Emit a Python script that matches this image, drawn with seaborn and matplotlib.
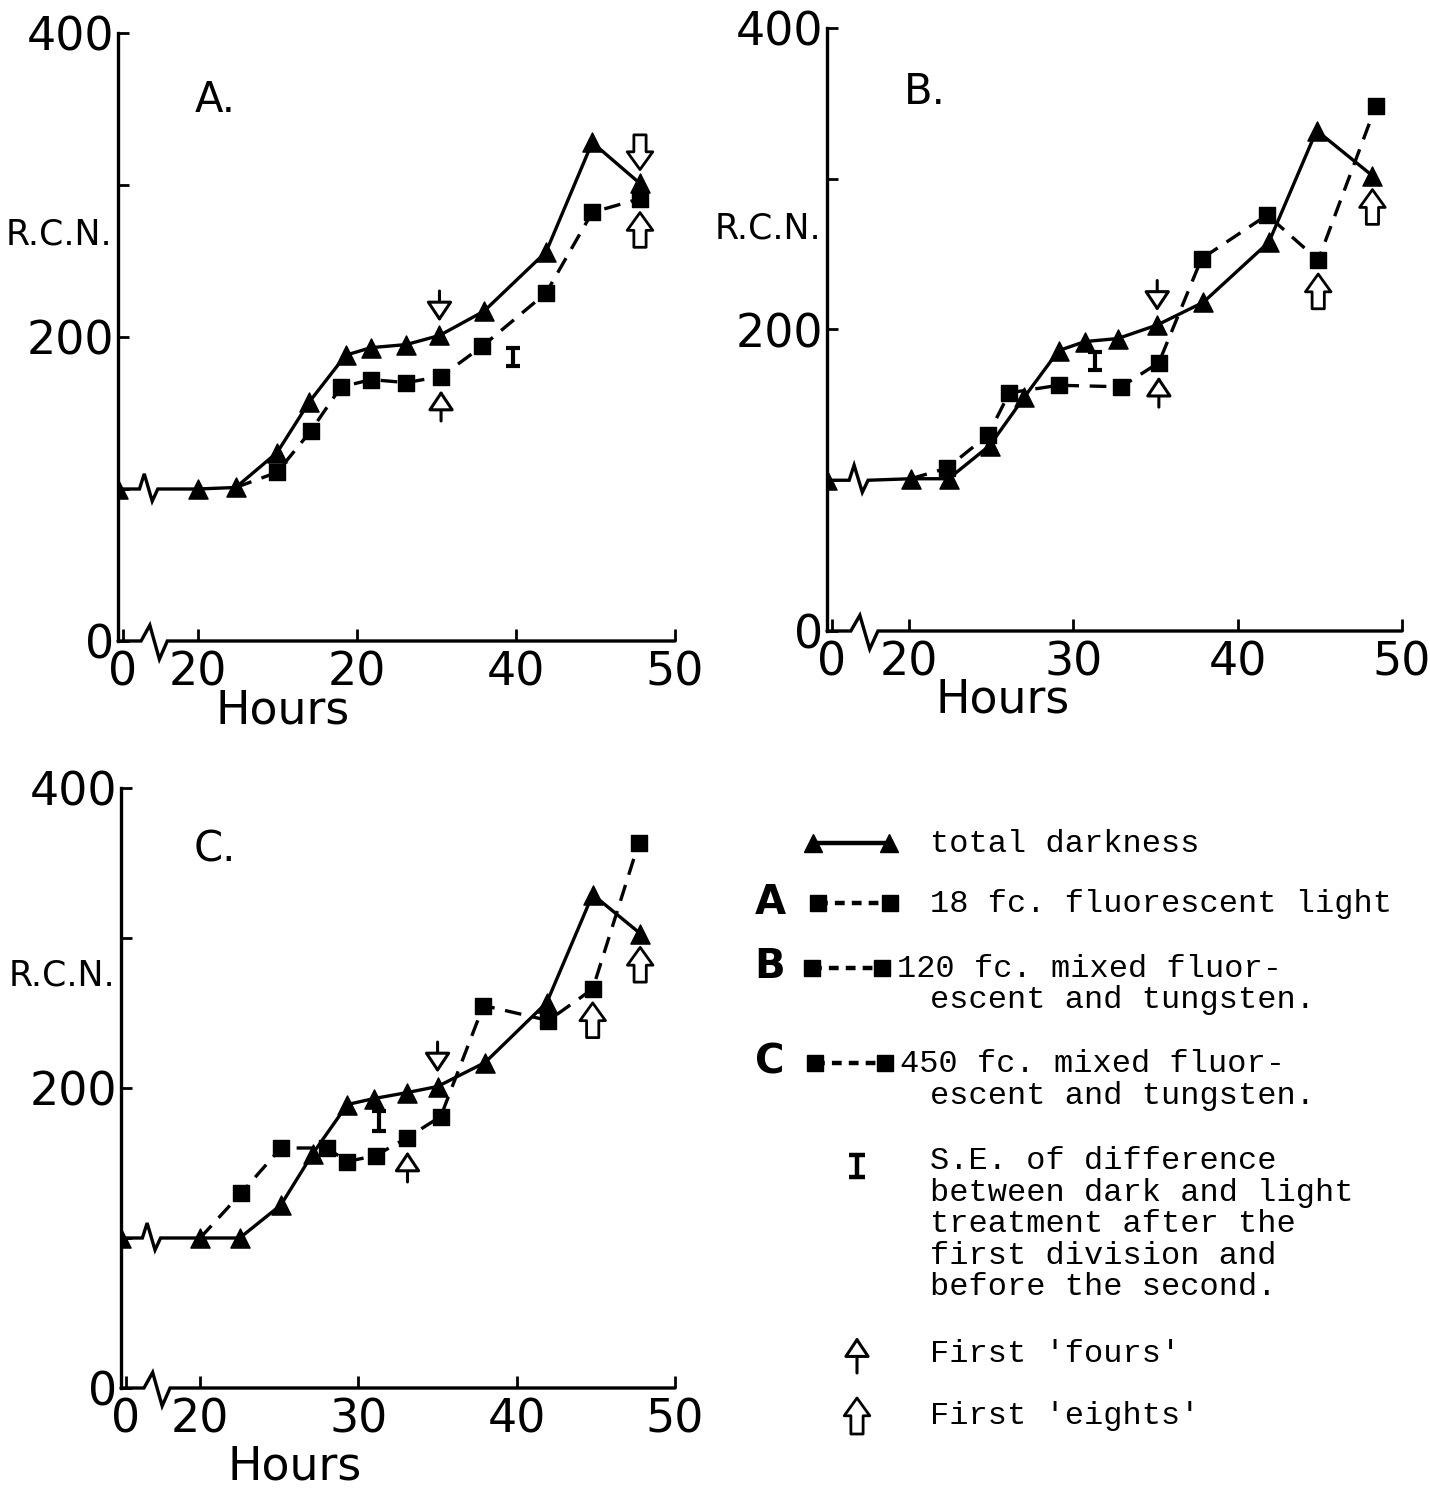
import matplotlib
matplotlib.use("Agg")
import matplotlib.pyplot as plt
import matplotlib.transforms as mtransforms
import numpy as np
import pandas as pd
import seaborn as sns

# ---------------- data ----------------
# Panel A
a_dark_hours = [0, 20, 22.4, 25.0, 27.0, 29.3, 30.9, 33.1, 35.2, 38.0, 41.9, 44.8, 47.8]
a_dark_rcn = [100, 100, 101, 124, 157, 188, 193, 195, 201, 217, 256, 328, 301]
a_light_hours = [22.4, 25.0, 27.1, 29.0, 30.9, 33.1, 35.3, 37.9, 41.9, 44.8, 47.8]
a_light_rcn = [101, 111, 138, 167, 172, 170, 174, 194, 229, 282, 291]

# Panel B
b_dark_hours = [0, 20.1, 22.4, 24.9, 27.0, 29.1, 30.7, 32.7, 35.1, 37.9, 41.9, 44.8, 48.2]
b_dark_rcn = [100, 101, 101, 123, 155, 186, 192, 194, 203, 218, 258, 332, 302]
b_light_hours = [20.1, 22.3, 24.8, 26.1, 29.1, 32.9, 35.2, 37.8, 41.8, 44.9, 48.4]
b_light_rcn = [101, 108, 130, 158, 163, 162, 178, 247, 276, 246, 348]

# Panel C
c_dark_hours = [0, 20, 22.5, 25.1, 27.1, 29.3, 31.0, 33.1, 35.0, 38.0, 41.9, 44.8, 47.8]
c_dark_rcn = [100, 100, 100, 122, 156, 189, 193, 197, 201, 217, 257, 329, 303]
c_light_hours = [20, 22.6, 25.1, 28.0, 29.3, 31.1, 33.1, 35.2, 37.9, 42.0, 44.8, 47.7]
c_light_rcn = [100, 130, 160, 160, 151, 155, 167, 181, 255, 245, 266, 363]

# arrows: (series, point index, kind, direction)
a_arrows = [("dark", 8, "fours", "down"), ("light", 6, "fours", "up"),
            ("dark", 12, "eights", "down"), ("light", 10, "eights", "up")]
b_arrows = [("dark", 8, "fours", "down"), ("light", 6, "fours", "up"),
            ("light", 9, "eights", "up"), ("dark", 12, "eights", "up")]
c_arrows = [("dark", 8, "fours", "down"), ("light", 6, "fours", "up"),
            ("light", 10, "eights", "up"), ("dark", 12, "eights", "up")]

# S.E. of difference bars (hour, centre, half length) for A, B, C
se_hours = [39.8, 31.3, 31.3]
se_center = [187, 179, 178]
se_half = [6, 6, 6.5]

a_xticklabels = ["0", "20", "20", "40", "50"]
bc_xticklabels = ["0", "20", "30", "40", "50"]
y_ticks = [0, 200, 400]
y_ticklabels = ["0", "200", "400"]

legend_labels = ["total darkness", "18 fc. fluorescent light",
                 "120 fc. mixed fluor-", "450 fc. mixed fluor-", "escent and tungsten."]
se_text = ["S.E. of difference", "between dark and light", "treatment after the",
           "first division and", "before the second."]
arrow_text = ["First 'fours'", "First 'eights'"]

# ---------------- style ----------------
sns.set_style("ticks")
plt.rcParams["font.family"] = ["DejaVu Sans"]
plt.rcParams["text.color"] = "black"

W, H, DPI = 1430, 1501, 100
fig = plt.figure(figsize=(W / DPI, H / DPI), dpi=DPI)
fig.patch.set_facecolor("white")

X0 = 15.0          # drawing position of hour 0 (left of the axis break)
LW = 2.4
SANS = 33

FOURS_STYLE = "-|>,head_length=0.6,head_width=0.4"
EIGHTS_STYLE = "simple,head_length=0.8,head_width=1.15,tail_width=0.55"


def to_pos(hours):
    return [X0 if h < 20 else h for h in hours]


def draw_arrow(ax, x, y, kind, direction):
    sign = 1 if direction == "down" else -1
    if kind == "fours":
        props = dict(arrowstyle=FOURS_STYLE, lw=2.2, ec="black", fc="white",
                     shrinkA=0, shrinkB=10, mutation_scale=20)
        off = 32
    else:
        props = dict(arrowstyle=EIGHTS_STYLE, lw=2.0, ec="black", fc="white",
                     shrinkA=0, shrinkB=10, mutation_scale=16)
        off = 35
    ax.annotate("", xy=(x, y), xycoords="data", xytext=(0, sign * off),
                textcoords="offset points", arrowprops=props, zorder=6)


def panel(rect, letter, xlabels, dh, dv, lh, lv, arrows, se_i,
          hours_xy, rcn_xy, letter_xy):
    ax = fig.add_axes(rect)
    ax.patch.set_alpha(0)
    ax.set_xlim(X0, 50)
    ax.set_ylim(0, 400)
    dpos = to_pos(dh)
    lpos = to_pos(lh)

    # broken segment between hour 0 and hour 20 (with zig-zag break sign)
    zx = [dpos[0], dpos[0] + 1.35, dpos[0] + 1.65, dpos[0] + 2.15, dpos[0] + 2.5, dpos[1]]
    zy = [dv[0], dv[0], dv[0] + 10, dv[0] - 8, dv[0], dv[1]]
    ax.plot(zx, zy, color="black", lw=LW, zorder=3, solid_joinstyle="miter")

    # dark (solid) curve
    sns.lineplot(x=dpos[1:], y=dv[1:], color="black", lw=LW, sort=False,
                 estimator=None, errorbar=None, ax=ax, zorder=3)
    # light (dashed) curve
    sns.lineplot(x=lpos, y=lv, color="black", lw=LW, sort=False, estimator=None,
                 errorbar=None, linestyle=(0, (5, 3.2)), ax=ax, zorder=3)
    sns.scatterplot(x=lpos[1:], y=lv[1:], marker="s", s=135, color="black",
                    edgecolor="black", linewidth=1, legend=False, ax=ax, zorder=4)
    sns.scatterplot(x=dpos, y=dv, marker="^", s=190, color="black",
                    edgecolor="black", linewidth=1, legend=False, ax=ax, zorder=5)

    # arrows
    for series, idx, kind, direction in arrows:
        if series == "dark":
            draw_arrow(ax, dpos[idx], dv[idx], kind, direction)
        else:
            draw_arrow(ax, lpos[idx], lv[idx], kind, direction)

    # S.E. bar
    ax.errorbar([se_hours[se_i]], [se_center[se_i]], yerr=[se_half[se_i]],
                color="black", lw=3, capsize=5, capthick=3, zorder=5)

    # spines / axis with break
    for s in ["top", "right", "bottom"]:
        ax.spines[s].set_visible(False)
    ax.spines["left"].set_linewidth(2.4)
    ax.spines["left"].set_color("black")
    tr = mtransforms.blended_transform_factory(ax.transData, ax.transAxes)
    ax.plot([X0, X0 + 1.45, X0 + 2.0, X0 + 2.6, X0 + 3.1, 50],
            [0, 0, 0.026, -0.03, 0, 0], color="black", lw=2.4, transform=tr,
            clip_on=False, zorder=3, solid_joinstyle="miter")

    ax.set_xticks([X0 + 0.3, 20, 30, 40, 50])
    ax.set_xticklabels(xlabels)
    ax.xaxis.get_major_ticks()[0].tick1line.set_visible(False)
    ax.tick_params(axis="x", direction="in", length=9, width=2, pad=7,
                   labelsize=SANS, bottom=True, color="black", labelcolor="black")
    ax.set_yticks(y_ticks)
    ax.set_yticklabels(y_ticklabels)
    ax.set_yticks([100, 300], minor=True)
    ax.tick_params(axis="y", which="both", direction="in", length=8, width=2, pad=3,
                   labelsize=SANS, left=True, color="black", labelcolor="black")
    ax.set_xlabel("")
    ax.set_ylabel("")

    ax.text(hours_xy[0], hours_xy[1], "Hours", transform=ax.transAxes, fontsize=SANS,
            ha="center", va="center")
    ax.text(rcn_xy[0], rcn_xy[1], "R.C.N.", transform=ax.transAxes, fontsize=25,
            ha="right", va="center")
    ax.text(letter_xy[0], letter_xy[1], letter, transform=ax.transAxes, fontsize=30,
            ha="center", va="center")
    return ax


panel([118 / W, 1 - 641 / H, (675 - 118) / W, (641 - 33) / H], "A.", a_xticklabels,
      a_dark_hours, a_dark_rcn, a_light_hours, a_light_rcn, a_arrows, 0,
      (0.296, -0.115), (-0.01, 0.668), (0.174, 0.89))
panel([827 / W, 1 - 631 / H, (1402 - 827) / W, (631 - 28) / H], "B.", bc_xticklabels,
      b_dark_hours, b_dark_rcn, b_light_hours, b_light_rcn, b_arrows, 1,
      (0.306, -0.115), (-0.01, 0.668), (0.17, 0.894))
panel([121 / W, 1 - 1388 / H, (675 - 121) / W, (1388 - 788) / H], "C.", bc_xticklabels,
      c_dark_hours, c_dark_rcn, c_light_hours, c_light_rcn, c_arrows, 2,
      (0.314, -0.132), (-0.01, 0.688), (0.17, 0.897))

# ---------------- legend (typed key, lower right) ----------------
ov = fig.add_axes([0, 0, 1, 1])
ov.set_xlim(0, W)
ov.set_ylim(H, 0)
ov.axis("off")
ov.patch.set_alpha(0)
mono = dict(family=["Liberation Mono", "DejaVu Sans Mono"], fontsize=23, color="black",
            va="baseline", ha="left")
bold = dict(fontsize=29, fontweight="bold", ha="center", va="center", color="black")

ov.plot([813, 889], [843, 843], color="black", lw=3.2, marker="^", ms=13)
ov.text(930, 852, legend_labels[0], **mono)

ov.text(770, 903, "A", **bold)
ov.plot([818, 890], [903, 903], color="black", lw=3.2, linestyle=(0, (2.2, 1.6)),
        marker="s", ms=12)
ov.text(930, 912, legend_labels[1], **mono)

ov.text(770, 967, "B", **bold)
ov.plot([812, 882], [968, 968], color="black", lw=3.2, linestyle=(0, (2.2, 1.6)),
        marker="s", ms=12)
ov.text(897, 977, legend_labels[2], **mono)
ov.text(930, 1008, legend_labels[4], **mono)

ov.text(770, 1062, "C", **bold)
ov.plot([815, 885], [1063, 1063], color="black", lw=3.2, linestyle=(0, (2.2, 1.6)),
        marker="s", ms=12)
ov.text(900, 1072, legend_labels[3], **mono)
ov.text(930, 1104, legend_labels[4], **mono)

ov.errorbar([857], [1166], yerr=[11], color="black", lw=3.2, capsize=6, capthick=3.2)
for i, line in enumerate(se_text):
    ov.text(930, 1169 + i * 31.5, line, **mono)

ov.annotate("", xy=(857, 1337), xytext=(857, 1373), xycoords="data",
            arrowprops=dict(arrowstyle=FOURS_STYLE, lw=2.2, ec="black", fc="white",
                            shrinkA=0, shrinkB=0, mutation_scale=20))
ov.text(930, 1362, arrow_text[0], **mono)
ov.annotate("", xy=(857, 1398), xytext=(857, 1434), xycoords="data",
            arrowprops=dict(arrowstyle=EIGHTS_STYLE, lw=2.0, ec="black", fc="white",
                            shrinkA=0, shrinkB=0, mutation_scale=16))
ov.text(930, 1424, arrow_text[1], **mono)

fig.savefig("out.png", dpi=DPI, facecolor="white")
